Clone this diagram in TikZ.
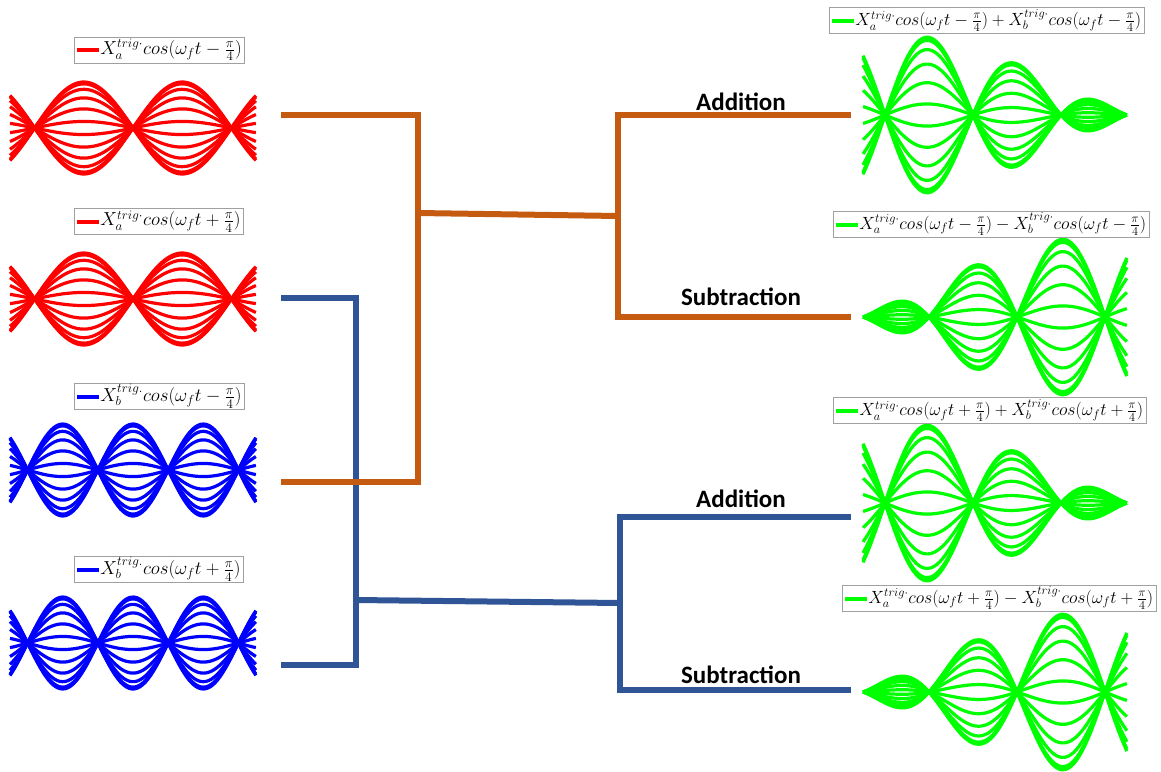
\documentclass[tikz,border=0pt]{standalone}
\usepackage{graphicx}
\usepackage{fontspec}
\newfontfamily\calib{Carlito}
\definecolor{conorange}{HTML}{C55A11}
\definecolor{conblue}{HTML}{2F5597}
\definecolor{wavegreen}{RGB}{0,255,0}
\definecolor{legframe}{HTML}{A0A0A0}
% #1 colour, #2 x0, #3 width, #4 centre y, #5 amplitude, #6 envelope of \u
\newcommand\wavefamily[6]{%
  \foreach \k in {0,...,11}{%
    \pgfmathsetmacro\ck{cos(\k*180/11)}%
    \draw[wave,#1] plot[domain=0:1,samples=90,variable=\u] ({#2+#3*\u},{#4+#5*\ck*(#6)});
  }}
\newcommand\legsample[1]{{\color{#1}\rule[2.3pt]{22pt}{4pt}}\hspace{1pt}}
\newcommand\legL[2]{\legsample{#1}\scalebox{1.09}{#2}}
\newcommand\legR[1]{\legsample{wavegreen}\scalebox{1.023}{#1}}
\begin{document}
\begin{tikzpicture}[x=1pt,y=-1pt,
  wave/.style={line width=3.2pt,line join=round},
  conn/.style={line width=6pt},
  orangeconn/.style={conn,draw=conorange},
  blueconn/.style={conn,draw=conblue},
  legendbox/.style={draw=legframe,line width=0.8pt,fill=white,inner xsep=3pt,inner ysep=0pt,minimum height=26pt,anchor=west,font=\fontsize{17.28}{20}\selectfont},
  optext/.style={font=\calib\bfseries\fontsize{25}{30}\selectfont,anchor=base,inner sep=0pt}]
\useasboundingbox (0,0) rectangle (1161,771);
% waveforms
\wavefamily{red}{10}{246}{128}{46}{sin(450*\u-45)}
\wavefamily{red}{10}{246}{299}{46}{sin(450*\u-45)}
\wavefamily{blue}{10}{246}{470}{46}{sin(630*\u-45)}
\wavefamily{blue}{10}{246}{643}{46}{sin(630*\u-45)}
\wavefamily{wavegreen}{863}{264}{115}{42}{sin(450*\u-45)+sin(630*\u-45)}
\wavefamily{wavegreen}{863}{264}{317}{42}{sin(450*\u-45)-sin(630*\u-45)}
\wavefamily{wavegreen}{863}{264}{503}{42}{sin(450*\u-45)+sin(630*\u-45)}
\wavefamily{wavegreen}{863}{264}{692}{42}{sin(450*\u-45)-sin(630*\u-45)}
% legends
\node[legendbox] (legA1) at (74,50) {\legL{red}{$X_a^{trig\cdot}cos(\omega_f t-\frac{\pi}{4})$}};
\node[legendbox] (legA2) at (74,221.5) {\legL{red}{$X_a^{trig\cdot}cos(\omega_f t+\frac{\pi}{4})$}};
\node[legendbox] (legB1) at (74,396) {\legL{blue}{$X_b^{trig.}cos(\omega_f t-\frac{\pi}{4})$}};
\node[legendbox] (legB2) at (74,569) {\legL{blue}{$X_b^{trig.}cos(\omega_f t+\frac{\pi}{4})$}};
\node[legendbox] (legG1) at (829,20.5) {\legR{$X_a^{trig\cdot}cos(\omega_f t-\frac{\pi}{4})+X_b^{trig\cdot}cos(\omega_f t-\frac{\pi}{4})$}};
\node[legendbox] (legG2) at (833,224) {\legR{$X_a^{trig\cdot}cos(\omega_f t-\frac{\pi}{4})-X_b^{trig\cdot}cos(\omega_f t-\frac{\pi}{4})$}};
\node[legendbox] (legG3) at (833,410.5) {\legR{$X_a^{trig\cdot}cos(\omega_f t+\frac{\pi}{4})+X_b^{trig\cdot}cos(\omega_f t+\frac{\pi}{4})$}};
\node[legendbox] (legG4) at (842,598) {\legR{$X_a^{trig\cdot}cos(\omega_f t+\frac{\pi}{4})-X_b^{trig\cdot}cos(\omega_f t+\frac{\pi}{4})$}};
% connector points
\coordinate (outA1) at (281,115);
\coordinate (outA2) at (281,298);
\coordinate (outB1) at (281,482);
\coordinate (outB2) at (281,665);
\coordinate (oTop) at (418,115);
\coordinate (oBot) at (418,482);
\coordinate (oMidL) at (418,213);
\coordinate (oMidR) at (618,216);
\coordinate (oR1) at (618,115);
\coordinate (oR2) at (618,317);
\coordinate (inAdd1) at (851,115);
\coordinate (inSub1) at (851,317);
\coordinate (bTop) at (356,298);
\coordinate (bBot) at (356,665);
\coordinate (bMidL) at (356,600);
\coordinate (bMidR) at (620,603);
\coordinate (bR1) at (620,517);
\coordinate (bR2) at (620,690);
\coordinate (inAdd2) at (851,517);
\coordinate (inSub2) at (851,690);
% blue connectors
\draw[blueconn] (outA2) -- (bTop) -- (bBot) -- (outB2);
\draw[blueconn] (bMidL) -- (bMidR);
\draw[blueconn] (inAdd2) -- (bR1) -- (bR2) -- (inSub2);
% orange connectors
\draw[orangeconn] (outA1) -- (oTop) -- (oBot) -- (outB1);
\draw[orangeconn] (oMidL) -- (oMidR);
\draw[orangeconn] (inAdd1) -- (oR1) -- (oR2) -- (inSub1);
% operation labels
\node[optext] (addA) at (741,110) {Addition};
\node[optext] (subA) at (741,305) {Subtraction};
\node[optext] (addB) at (741,507) {Addition};
\node[optext] (subB) at (741,683) {Subtraction};
\end{tikzpicture}
\end{document}
